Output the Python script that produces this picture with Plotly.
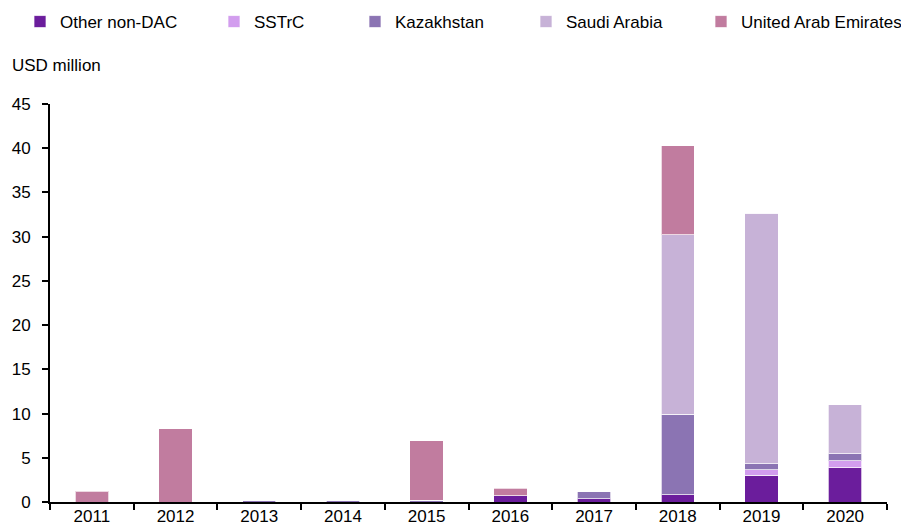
import plotly.graph_objects as go

years = ["2011", "2012", "2013", "2014", "2015", "2016", "2017", "2018", "2019", "2020"]
other_non_dac = [0, 0, 0, 0, 0, 0.7, 0.35, 0.83, 3.05, 3.85]
sstrc = [0, 0, 0, 0, 0, 0, 0, 0, 0.57, 0.79]
kazakhstan = [0, 0, 0.15, 0.15, 0.2, 0, 0.82, 9.1, 0.71, 0.82]
saudi_arabia = [0, 0, 0, 0, 0, 0, 0, 20.3, 28.3, 5.55]
uae = [1.2, 8.3, 0, 0, 6.7, 0.85, 0, 10.05, 0, 0]

series = [
    ("Other non-DAC", other_non_dac, "#6B1D9C"),
    ("SSTrC", sstrc, "#D29DEE"),
    ("Kazakhstan", kazakhstan, "#8B74B3"),
    ("Saudi Arabia", saudi_arabia, "#C7B2D7"),
    ("United Arab Emirates", uae, "#C17C9F"),
]

FONT = "Liberation Sans, Arial, sans-serif"
W, H = 901, 519
legend_px = [12, 206, 347, 518, 693]

fig = go.Figure()
layout_legends = {}
for i, (name, vals, col) in enumerate(series):
    lname = "legend" if i == 0 else f"legend{i + 1}"
    fig.add_trace(go.Bar(
        x=years, y=vals, name=name, legend=lname, showlegend=True,
        marker=dict(color=col, line=dict(color="rgba(255,255,255,0.7)", width=1)),
    ))
    layout_legends[lname] = dict(
        orientation="h", x=legend_px[i] / W, xanchor="left",
        y=1 - 14 / H, yanchor="middle", xref="container", yref="container",
        font=dict(size=17, family=FONT, color="black"), itemwidth=30,
        bgcolor="rgba(0,0,0,0)",
    )

fig.update_layout(
    barmode="stack",
    bargap=0.6,
    showlegend=True,
    width=W, height=H,
    margin=dict(l=42, r=22, t=96, b=25),
    paper_bgcolor="white", plot_bgcolor="white",
    font=dict(family=FONT, size=17, color="black"),
    annotations=[dict(text="USD million", xref="paper", yref="paper",
                      x=-0.0478, y=1.0955, xanchor="left", yanchor="middle",
                      showarrow=False, font=dict(size=17))],
    **layout_legends,
)
fig.update_xaxes(showline=True, linecolor="black", linewidth=2,
                 ticks="outside", tickson="boundaries", ticklen=6,
                 tickcolor="black", tickwidth=2, automargin=False,
                 ticklabelstandoff=-2, showgrid=False)
fig.update_yaxes(range=[0, 45], dtick=5, showline=True, linecolor="black",
                 linewidth=2, ticks="outside", ticklen=6, tickcolor="black",
                 tickwidth=2, showgrid=False, zeroline=False, automargin=False,
                 ticklabelstandoff=8)

fig.write_html("out.html")
